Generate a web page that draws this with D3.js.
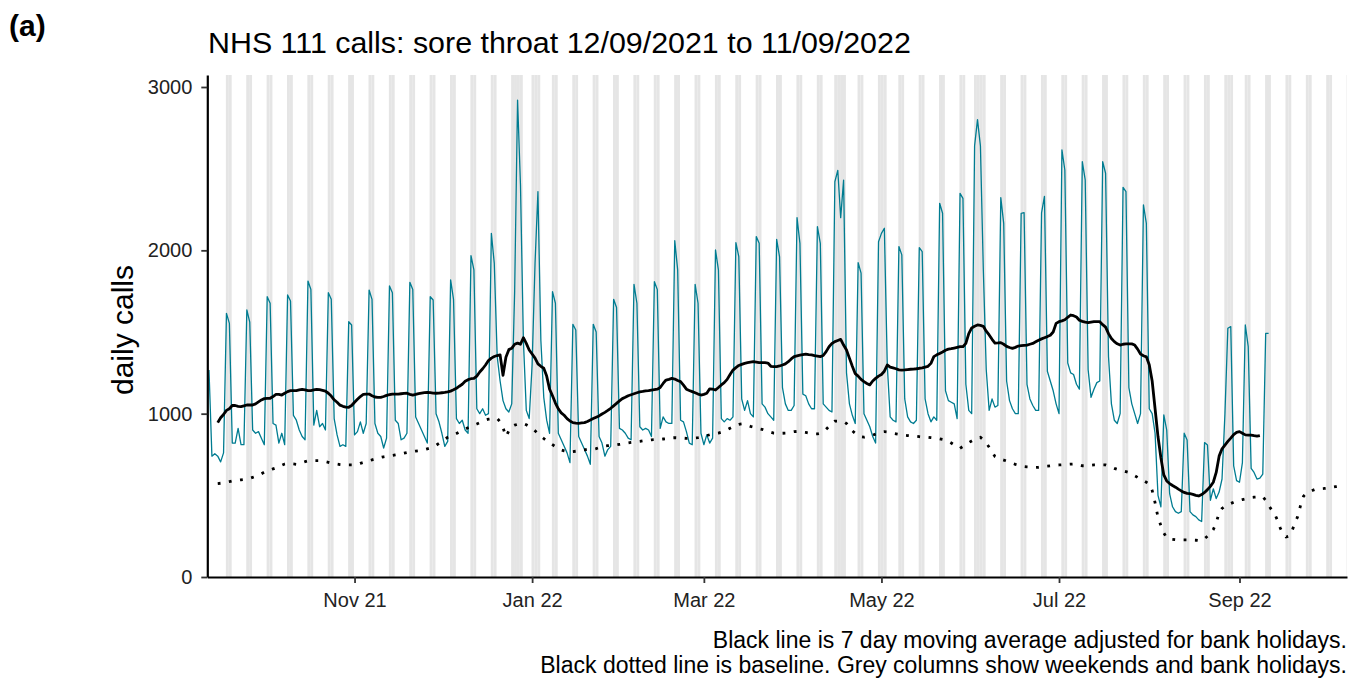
<!DOCTYPE html>
<html>
<head>
<meta charset="utf-8">
<script src="https://cdn.jsdelivr.net/npm/d3@7"></script>
<style>
body { margin: 0; background: #fff; }
text { font-family: Arial, "Liberation Sans", sans-serif; }
</style>
</head>
<body>
<script>
var width = 1350;
var height = 678;

var plot = { left: 207.3, right: 1347, top: 75, bottom: 577 };

// first date of each series
var callsStart = '2021-09-12';
var maStart = '2021-09-15';
var baselineStart = '2021-09-15';

// grey columns run over this span (weekends) plus bank holidays
var columnsFrom = '2021-09-13';
var columnsTo = '2022-10-09';
var bankHolidays = ['2021-12-27', '2021-12-28', '2022-01-03', '2022-04-15', '2022-04-18',
    '2022-05-02', '2022-06-02', '2022-06-03', '2022-08-29'];

// daily calls, rows are Sat..Fri (first row Sun..Fri)
var dailyCalls = [
    1267, 740, 755, 740, 705, 760,
    1614, 1553, 820, 820, 910, 810, 810,
    1635, 1560, 900, 880, 890, 850, 810,
    1716, 1676, 940, 930, 820, 880, 810,
    1727, 1690, 990, 960, 900, 860, 840,
    1812, 1760, 930, 1020, 920, 940, 900,
    1741, 1700, 970, 870, 800, 810, 800,
    1563, 1543, 870, 890, 950, 880, 940,
    1757, 1700, 940, 880, 860, 790, 850,
    1782, 1740, 960, 940, 840, 850, 880,
    1804, 1760, 980, 940, 900, 860, 820,
    1716, 1696, 1000, 950, 880, 800, 830,
    1819, 1700, 970, 940, 960, 900, 880,
    1968, 1880, 1030, 1000, 1030, 990, 1000,
    2104, 1920, 1350, 1200, 1080, 1030, 1010,
    1060, 1750, 2920, 2400, 1450, 1020, 970,
    1300, 1920, 2360, 1450, 1100, 960, 880,
    1747, 1676, 880, 840, 800, 760, 700,
    1547, 1512, 860, 820, 780, 740, 690,
    1547, 1500, 860, 820, 740, 780, 800,
    1700, 1650, 910, 900, 880, 850, 840,
    1792, 1676, 920, 900, 910, 900, 860,
    1808, 1760, 910, 980, 950, 940, 940,
    2059, 1880, 960, 950, 890, 820, 810,
    1792, 1676, 880, 810, 870, 820, 850,
    2002, 1880, 970, 950, 970, 960, 980,
    2047, 1961, 1090, 1020, 1080, 1000, 980,
    2084, 2043, 1060, 1040, 1000, 980, 960,
    2067, 1960, 1160, 1060, 1020, 1020, 1050,
    2200, 2043, 1120, 1110, 1060, 1030, 1030,
    2145, 2043, 1060, 1040, 1020, 1010, 2420,
    2490, 2200, 2430, 1250, 1060, 990, 940,
    1925, 1860, 1000, 960, 920, 860, 820,
    2053, 2104, 2135, 1300, 980, 960, 950,
    2023, 1972, 1090, 980, 950, 940, 960,
    2016, 1992, 1090, 1000, 950, 980, 960,
    2288, 2227, 1140, 1080, 1070, 1060, 970,
    2349, 2318, 1180, 1020, 1000, 2640, 2800,
    2640, 1880, 1270, 1020, 1090, 1040, 1050,
    2323, 2165, 1200, 1080, 1030, 1000, 1000,
    2227, 2231, 1180, 1090, 1050, 1020, 1020,
    2230, 2330, 1260, 1200, 1140, 1060, 1000,
    2615, 2492, 1310, 1250, 1240, 1180, 1150,
    2543, 2431, 1270, 1100, 1150, 1190, 1200,
    2543, 2472, 1350, 1060, 960, 940, 1000,
    2386, 2359, 1160, 1060, 1000, 940, 1000,
    2278, 2165, 1030, 1000, 880, 500, 430,
    992, 900, 510, 430, 400, 390, 400,
    880, 839, 400, 380, 370, 350, 340,
    823, 808, 470, 540, 480, 520, 600,
    1000, 1523, 1533, 680, 590, 580, 700,
    1543, 1410, 665, 640, 600, 605, 630,
    1492, 1492
];

// 7 day moving average (adjusted for bank holidays)
var movingAverage = [
    945, 975, 995,
    1020, 1030, 1050, 1050, 1045, 1043, 1048,
    1053, 1053, 1053, 1060, 1072, 1084, 1092,
    1094, 1094, 1105, 1118, 1118, 1114, 1125,
    1135, 1141, 1141, 1141, 1145, 1149, 1145,
    1141, 1141, 1145, 1149, 1147, 1143, 1138,
    1125, 1108, 1085, 1070, 1052, 1045, 1040,
    1039, 1050, 1070, 1088, 1105, 1118, 1120,
    1120, 1110, 1102, 1100, 1100, 1105, 1112,
    1116, 1120, 1120, 1120, 1122, 1124, 1125,
    1118, 1114, 1118, 1123, 1126, 1129, 1131,
    1129, 1126, 1125, 1126, 1128, 1130, 1133,
    1138, 1146, 1155, 1168, 1180, 1198, 1208,
    1214, 1216, 1230, 1255, 1275, 1298, 1325,
    1340, 1350, 1356, 1360, 1235, 1345, 1392,
    1400, 1425, 1432, 1425, 1465, 1430, 1390,
    1365, 1340, 1305, 1290, 1278, 1230, 1150,
    1110, 1065, 1030, 1005, 990, 970, 955,
    945, 942, 941, 943, 945, 952, 961,
    970, 978, 986, 998, 1008, 1020, 1033,
    1048, 1063, 1078, 1092, 1100, 1110, 1116,
    1122, 1128, 1133, 1136, 1140, 1141, 1144,
    1147, 1150, 1160, 1185, 1206, 1210, 1216,
    1212, 1203, 1196, 1175, 1150, 1142, 1135,
    1128, 1120, 1114, 1118, 1125, 1152, 1150,
    1145, 1160, 1176, 1190, 1210, 1240, 1267,
    1282, 1295, 1302, 1308, 1312, 1315, 1318,
    1316, 1313, 1312, 1312, 1310, 1290, 1288,
    1288, 1292, 1298, 1305, 1318, 1335, 1349,
    1354, 1358, 1362, 1365, 1362, 1360, 1355,
    1352, 1349, 1356, 1380, 1410, 1430, 1441,
    1448, 1455, 1420, 1390, 1340, 1290, 1245,
    1230, 1210, 1196, 1185, 1176, 1200, 1216,
    1230, 1240, 1260, 1298, 1285, 1280, 1275,
    1268, 1267, 1268, 1270, 1272, 1273, 1275,
    1278, 1280, 1285, 1290, 1308, 1349, 1360,
    1369, 1378, 1388, 1395, 1398, 1402, 1406,
    1410, 1410, 1430, 1490, 1525, 1535, 1543,
    1540, 1535, 1505, 1482, 1455, 1432, 1433,
    1435, 1425, 1412, 1405, 1400, 1406, 1414,
    1416, 1418, 1420, 1425, 1430, 1440, 1450,
    1458, 1465, 1472, 1480, 1500, 1553, 1563,
    1568, 1575, 1590, 1604, 1600, 1592, 1572,
    1565, 1560, 1557, 1560, 1563, 1563, 1563,
    1545, 1530, 1490, 1460, 1441, 1428, 1420,
    1425, 1427, 1427, 1427, 1420, 1395, 1365,
    1355, 1348, 1300, 1200, 1030, 860, 730,
    625, 588, 572, 560, 550, 538, 527,
    518, 512, 510, 506, 500, 496, 505,
    518, 535, 555, 580, 640, 740, 785,
    808, 830, 850, 872, 885, 890, 880,
    870, 869, 869, 865, 862, 866
];

// baseline (dotted)
var baseline = [
    572, 574, 576,
    580, 584, 588, 591, 593, 595, 597,
    600, 604, 610, 616, 624, 632, 642,
    650, 656, 662, 668, 675, 684, 692,
    696, 694, 692, 690, 694, 700, 706,
    711, 712, 712, 712, 712, 710, 706,
    702, 697, 694, 691, 688, 686, 686,
    686, 686, 686, 690, 696, 701, 706,
    712, 717, 722, 728, 732, 736, 739,
    742, 744, 747, 750, 754, 758, 762,
    765, 768, 771, 773, 776, 780, 785,
    790, 796, 806, 818, 830, 845, 855,
    862, 869, 878, 888, 897, 906, 914,
    922, 930, 937, 945, 953, 961, 966,
    968, 970, 971, 950, 915, 860, 895,
    922, 930, 935, 940, 940, 932, 922,
    910, 895, 878, 862, 848, 834, 822,
    810, 798, 786, 778, 772, 768, 767,
    768, 770, 774, 778, 779, 780, 781,
    782, 786, 792, 798, 802, 804, 806,
    807, 809, 812, 815, 818, 821, 824,
    826, 828, 830, 833, 835, 838, 840,
    841, 842, 843, 845, 847, 850, 852,
    853, 852, 851, 850, 849, 849, 851,
    852, 853, 856, 861, 866, 871, 875,
    878, 881, 887, 894, 902, 911, 920,
    929, 935, 937, 935, 928, 922, 918,
    913, 908, 904, 898, 892, 886, 881,
    880, 880, 880, 881, 884, 887, 890,
    891, 890, 888, 885, 882, 879, 876,
    876, 880, 890, 904, 922, 940, 954,
    955, 954, 952, 940, 915, 895, 880,
    868, 858, 856, 860, 865, 869, 875,
    882, 888, 890, 888, 884, 880, 877,
    874, 871, 868, 866, 864, 863, 861,
    859, 857, 856, 855, 853, 851, 849,
    846, 842, 836, 830, 820, 808, 796,
    788, 800, 812, 823, 833, 843, 852,
    855, 840, 820, 795, 765, 738, 728,
    721, 716, 710, 703, 696, 690, 685,
    681, 676, 674, 673, 672, 671, 672,
    674, 677, 679, 681, 683, 685, 686,
    687, 688, 690, 691, 692, 690, 686,
    681, 681, 683, 684, 686, 686, 686,
    686, 686, 680, 672, 665, 659, 655,
    650, 645, 640, 630, 620, 610, 600,
    590, 580, 570, 530, 455, 365, 315,
    270, 240, 232, 230, 228, 227, 227,
    227, 227, 227, 226, 225, 223, 222,
    235, 250, 265, 290, 330, 395, 420,
    432, 442, 450, 458, 464, 469, 474,
    478, 483, 487, 489, 490, 491, 492,
    470, 438, 412, 388, 350, 300, 262,
    245, 250, 280, 330, 370, 440, 495,
    512, 522, 530, 537, 540, 541, 542,
    544, 547, 550, 553, 555
];

var yTicks = [0, 1000, 2000, 3000];

var parse = d3.utcParse('%Y-%m-%d');

function toSeries(start, values) {
    var d0 = parse(start);
    return values.map(function(v, i) {
        return { date: d3.utcDay.offset(d0, i), value: v };
    });
}

var calls = toSeries(callsStart, dailyCalls);
var ma = toSeries(maStart, movingAverage);
var base = toSeries(baselineStart, baseline);

var holidaySet = new Set(bankHolidays);
var fmtDay = d3.utcFormat('%Y-%m-%d');
var greyDays = d3.utcDay.range(parse(columnsFrom), parse(columnsTo)).filter(function(d) {
    var wd = d.getUTCDay();
    return wd === 0 || wd === 6 || holidaySet.has(fmtDay(d));
});

var x = d3.scaleUtc()
    .domain([Date.UTC(2021, 8, 11, 10), Date.UTC(2022, 9, 7, 22, 20)])
    .range([plot.left, plot.right]);

var y = d3.scaleLinear()
    .domain([0, 3073.5])
    .range([plot.bottom, plot.top]);

var svg = d3.select('body')
    .append('svg')
    .attr('width', width)
    .attr('height', height);

svg.append('clipPath')
    .attr('id', 'panel')
    .append('rect')
    .attr('x', plot.left)
    .attr('y', plot.top)
    .attr('width', plot.right - plot.left)
    .attr('height', plot.bottom - plot.top);

var panel = svg.append('g').attr('clip-path', 'url(#panel)');

// weekend / bank holiday columns
panel.selectAll('rect.col')
    .data(greyDays)
    .enter()
    .append('rect')
    .attr('class', 'col')
    .attr('x', function(d) { return x(d3.utcHour.offset(d, -5)); })
    .attr('y', plot.top)
    .attr('width', function(d) { return x(d3.utcDay.offset(d, 1)) - x(d); })
    .attr('height', plot.bottom - plot.top)
    .attr('fill', '#e5e5e5');

var line = d3.line()
    .x(function(d) { return x(d.date); })
    .y(function(d) { return y(d.value); });

panel.append('path')
    .attr('d', line(calls))
    .attr('fill', 'none')
    .attr('stroke', '#007c91')
    .attr('stroke-width', 1.3)
    .attr('stroke-linejoin', 'round');

panel.append('path')
    .attr('d', line(ma))
    .attr('fill', 'none')
    .attr('stroke', '#000')
    .attr('stroke-width', 2.8)
    .attr('stroke-linejoin', 'round');

panel.append('path')
    .attr('d', line(base))
    .attr('fill', 'none')
    .attr('stroke', '#000')
    .attr('stroke-width', 2.8)
    .attr('stroke-dasharray', '2.8 8.5');

// axes
var yAxis = svg.append('g')
    .attr('transform', 'translate(' + plot.left + ',0)')
    .call(d3.axisLeft(y).tickValues(yTicks).tickFormat(d3.format('d'))
        .tickSize(6).tickSizeOuter(0).tickPadding(9));

var xAxis = svg.append('g')
    .attr('transform', 'translate(0,' + plot.bottom + ')')
    .call(d3.axisBottom(x).ticks(d3.utcMonth.every(2)).tickFormat(d3.utcFormat('%b %y'))
        .tickSize(6).tickSizeOuter(0).tickPadding(10));

[yAxis, xAxis].forEach(function(a) {
    a.select('.domain').attr('stroke', '#000').attr('stroke-width', 2.2);
    a.selectAll('.tick line').attr('stroke', '#333').attr('stroke-width', 1.8);
    a.selectAll('.tick text').attr('fill', '#222').style('font-size', '20px')
        .style('font-family', 'Arial, "Liberation Sans", sans-serif');
});

// texts
svg.append('text')
    .attr('x', 9)
    .attr('y', 36)
    .style('font-size', '30px')
    .style('font-weight', 'bold')
    .text('(a)');

svg.append('text')
    .attr('x', 208)
    .attr('y', 53)
    .style('font-size', '30.4px')
    .text('NHS 111 calls: sore throat 12/09/2021 to 11/09/2022');

svg.append('text')
    .attr('transform', 'translate(133,330) rotate(-90)')
    .attr('text-anchor', 'middle')
    .style('font-size', '30px')
    .text('daily calls');

svg.append('text')
    .attr('x', 1347)
    .attr('y', 648)
    .attr('text-anchor', 'end')
    .style('font-size', '23px')
    .text('Black line is 7 day moving average adjusted for bank holidays.');

svg.append('text')
    .attr('x', 1347)
    .attr('y', 673)
    .attr('text-anchor', 'end')
    .style('font-size', '23px')
    .text('Black dotted line is baseline. Grey columns show weekends and bank holidays.');
</script>
</body>
</html>
